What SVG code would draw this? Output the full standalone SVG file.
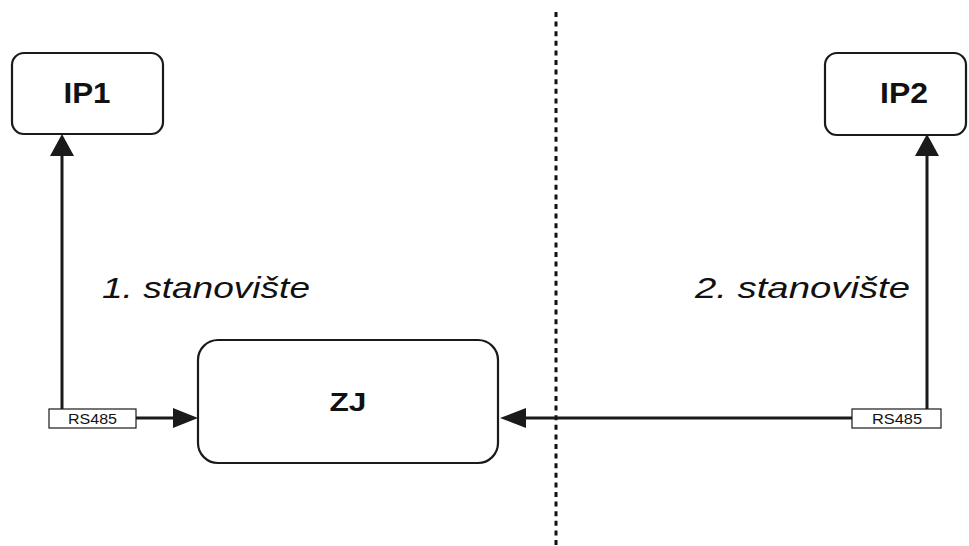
<svg xmlns="http://www.w3.org/2000/svg" width="969" height="546" viewBox="0 0 969 546">
<style>
.box{fill:#fff;stroke:#1a1a1a;stroke-width:2.2}
.lbl{fill:#fff;stroke:#1a1a1a;stroke-width:1.2}
.bt{font-family:"Liberation Sans",Arial,sans-serif;font-weight:bold;fill:#111}
.it{font-family:"Liberation Sans",Arial,sans-serif;font-style:italic;font-size:30px;fill:#111}
.sm{font-family:"Liberation Sans",Arial,sans-serif;font-size:14px;fill:#111}
.ln{stroke:#1a1a1a;stroke-width:3;fill:none}
.ah{fill:#1a1a1a}
</style>
<rect width="969" height="546" fill="#fff"/>
<g id="divider">
<line x1="556" y1="12" x2="556" y2="546" stroke="#111" stroke-width="3" stroke-dasharray="5 4.6"/>
</g>
<g id="connectors">
<line class="ln" x1="62" y1="409" x2="62" y2="152"/>
<polygon class="ah" points="62,134 50,156 74,156"/>
<line class="ln" x1="136" y1="418" x2="176" y2="418"/>
<polygon class="ah" points="198,418 173,408 173,428"/>
<line class="ln" x1="927" y1="409" x2="927" y2="152"/>
<polygon class="ah" points="927,134 915,156 939,156"/>
<line class="ln" x1="852" y1="418" x2="524" y2="418"/>
<polygon class="ah" points="500,418 526,408 526,428"/>
</g>
<g id="ip1">
<rect class="box" x="12" y="53" width="151" height="81" rx="12"/>
<text class="bt" x="87" y="103" font-size="29" text-anchor="middle" textLength="47" lengthAdjust="spacingAndGlyphs">IP1</text>
</g>
<g id="ip2">
<rect class="box" x="825" y="53" width="141" height="82" rx="12"/>
<text class="bt" x="904" y="103" font-size="29" text-anchor="middle" textLength="48" lengthAdjust="spacingAndGlyphs">IP2</text>
</g>
<g id="zj">
<rect class="box" x="198" y="340" width="300" height="123" rx="20"/>
<text class="bt" x="348" y="411" font-size="25" text-anchor="middle" textLength="37" lengthAdjust="spacingAndGlyphs">ZJ</text>
</g>
<g id="rs485-1">
<rect class="lbl" x="49" y="409" width="87" height="19"/>
<text class="sm" x="92.5" y="423.5" text-anchor="middle" textLength="49" lengthAdjust="spacingAndGlyphs">RS485</text>
</g>
<g id="rs485-2">
<rect class="lbl" x="852" y="409" width="89" height="19"/>
<text class="sm" x="897" y="423.5" text-anchor="middle" textLength="50" lengthAdjust="spacingAndGlyphs">RS485</text>
</g>
<g id="labels">
<text class="it" x="102" y="298" textLength="208" lengthAdjust="spacingAndGlyphs">1. stanovište</text>
<text class="it" x="695" y="298" textLength="215" lengthAdjust="spacingAndGlyphs">2. stanovište</text>
</g>
</svg>
